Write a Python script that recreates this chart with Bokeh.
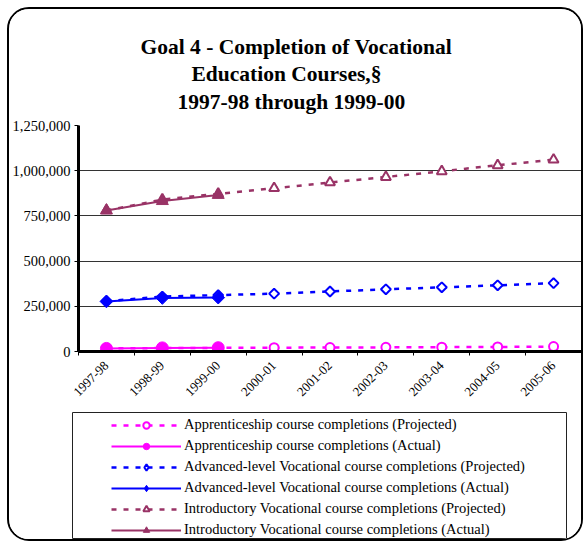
import math
from bokeh.plotting import figure
from bokeh.layouts import column
from bokeh.models import (Range1d, FixedTicker, NumeralTickFormatter, Title, Legend,
                          LegendItem)
from bokeh.embed import file_html
from bokeh.resources import INLINE

# ---- data ----
categories = ["1997-98", "1998-99", "1999-00", "2000-01", "2001-02",
              "2002-03", "2003-04", "2004-05", "2005-06"]
appr_proj = [17000, 19000, 20000, 21000, 22000, 23000, 24000, 25000, 27000]
appr_actual = [17000, 20000, 21000]
adv_proj = [278000, 304000, 312000, 320000, 332000, 344000, 355000, 366000, 378000]
adv_actual = [277000, 296000, 298000]
intro_proj = [780000, 840000, 872000, 903000, 935000, 965000, 997000, 1030000, 1061000]
intro_actual = [780000, 832000, 866000]
y_ticks = [0, 250000, 500000, 750000, 1000000, 1250000]
title_lines = ["Goal 4 - Completion of Vocational",
               "Education Courses,\u00a7",
               "1997-98 through 1999-00"]
labels = ["Apprenticeship course completions (Projected)",
          "Apprenticeship course completions (Actual)",
          "Advanced-level Vocational course completions (Projected)",
          "Advanced-level Vocational course completions (Actual)",
          "Introductory Vocational course completions (Projected)",
          "Introductory Vocational course completions (Actual)"]

FONT = "Liberation Serif"
MAGENTA = "#FF00FF"
BLUE = "#0000FF"
PLUM = "#993366"

x_all = [i + 1 for i in range(len(categories))]
x_act = x_all[:len(appr_actual)]

p = figure(width=572, height=402, output_backend="svg", toolbar_location=None,
           x_range=Range1d(0.5, len(categories) + 0.5), y_range=Range1d(0, 1250000),
           min_border_left=68, min_border_right=0, min_border_top=116,
           min_border_bottom=60)
p.frame_align = False
p.title = None
p.outline_line_color = None
p.background_fill_color = "white"
p.border_fill_color = "white"

title_offsets = [62, 113, 99]
try:
    Title(text="x", standoff=-18)
    title_standoffs = [20, -18, 23]
except Exception:
    title_standoffs = [1, 1, 15]
for txt, off, so in reversed(list(zip(title_lines, title_offsets, title_standoffs))):
    p.add_layout(Title(text=txt, align="left", text_font=FONT, text_font_size="21.5px",
                       text_font_style="bold", text_color="black", standoff=so,
                       offset=off), "above")

# grid
p.xgrid.visible = False
p.ygrid.grid_line_color = "#333333"
p.ygrid.grid_line_width = 1
p.yaxis.ticker = FixedTicker(ticks=y_ticks)

# y axis
p.yaxis.formatter = NumeralTickFormatter(format="0,0")
p.yaxis.axis_line_width = 3
p.yaxis.axis_line_color = "black"
p.yaxis.major_tick_out = 4
p.yaxis.major_tick_in = 0
p.yaxis.minor_tick_line_color = None
p.yaxis.major_label_text_font = FONT
p.yaxis.major_label_text_font_size = "14.5px"
p.yaxis.major_label_text_color = "black"
p.yaxis.major_label_standoff = 4

# x axis
p.xaxis.ticker = FixedTicker(ticks=x_all,
                             minor_ticks=[i + 0.5 for i in range(len(categories) + 1)])
p.xaxis.major_label_overrides = {x: c for x, c in zip(x_all, categories)}
p.xaxis.axis_line_width = 3
p.xaxis.axis_line_color = "black"
p.xaxis.major_tick_line_color = None
p.xaxis.minor_tick_line_color = "black"
p.xaxis.minor_tick_out = 4
p.xaxis.minor_tick_in = 0
p.xaxis.major_label_orientation = math.pi / 4
p.xaxis.major_label_text_font = FONT
p.xaxis.major_label_text_font_size = "13px"
p.xaxis.major_label_text_color = "black"
p.xaxis.major_label_standoff = 6

# legend panel figure
p2 = figure(width=572, height=128, output_backend="svg", toolbar_location=None,
            x_range=Range1d(0, 1), y_range=Range1d(0, 1),
            x_axis_location=None, y_axis_location=None,
            min_border_left=63, min_border_right=15, min_border_top=1,
            min_border_bottom=1)
p2.frame_align = False
p2.title = None
p2.grid.visible = False
p2.outline_line_color = "#222222"
p2.outline_line_width = 1
p2.background_fill_color = "white"
p2.border_fill_color = "white"

series = [
    (appr_proj, appr_actual, MAGENTA, "circle", "circle", 0, 9, 12),
    (adv_proj, adv_actual, BLUE, "square", "diamond", math.pi / 4, 7, 9),
    (intro_proj, intro_actual, PLUM, "triangle", "triangle", 0, 10, 12),
]

items = []
k = 0
for proj, act, col, mk, lmk, ang, s_open, s_fill in series:
    p.line(x_all, proj, line_color=col, line_width=2.5, line_dash="5 7")
    p.scatter(x_all, proj, marker=mk, angle=ang, size=s_open, fill_color="white",
              line_color=col, line_width=2)
    p.line(x_act, act, line_color=col, line_width=2)
    p.scatter(x_act, act, marker=mk, angle=ang, size=s_fill, fill_color=col,
              line_color=col, line_width=1)
    # legend proxies in the legend panel (same data, lying outside its view)
    lp = p2.line(x_all, proj, line_color=col, line_width=2.5, line_dash="5 7")
    sp = p2.scatter(x_all, proj, marker=lmk, size=s_open, fill_color="white",
                    line_color=col, line_width=2)
    la = p2.line(x_act, act, line_color=col, line_width=2)
    sa = p2.scatter(x_act, act, marker=lmk, size=s_fill, fill_color=col,
                    line_color=col, line_width=1)
    items.append(LegendItem(label=labels[k], renderers=[lp, sp]))
    items.append(LegendItem(label=labels[k + 1], renderers=[la, sa]))
    k += 2

legend = Legend(items=items, location=(39, 0), orientation="vertical",
                label_text_font=FONT, label_text_font_size="14.5px",
                label_text_color="black", glyph_width=70, glyph_height=16,
                label_height=16, label_standoff=3, spacing=4, padding=0, margin=0,
                border_line_alpha=0, background_fill_alpha=0)
p2.add_layout(legend)

layout = column(p, p2, spacing=0,
                styles={"margin-left": "7px", "margin-top": "7px",
                        "border": "2px solid black", "border-radius": "22px",
                        "overflow": "hidden", "background-color": "white"})

open("out.html", "w").write(file_html(layout, INLINE))
